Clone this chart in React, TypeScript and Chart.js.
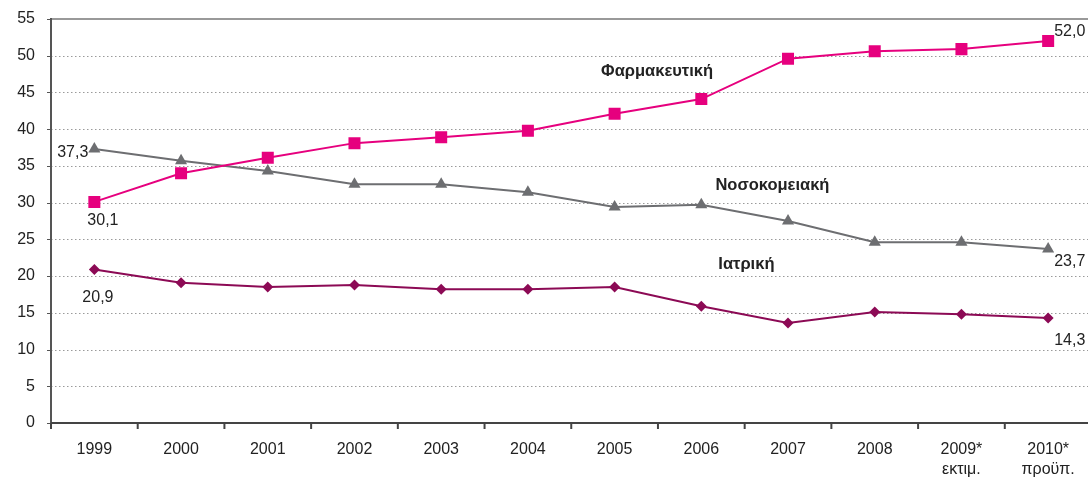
import React, { useEffect, useRef } from "react";
import { Chart, registerables } from "chart.js";

Chart.register(...registerables);

const categories: (string | string[])[] = [
  "1999", "2000", "2001", "2002", "2003", "2004", "2005", "2006", "2007", "2008",
  ["2009*", "εκτιμ."], ["2010*", "προϋπ."],
];
const pharmaValues = [30.1, 34.0, 36.1, 38.1, 38.9, 39.8, 42.1, 44.1, 49.6, 50.6, 50.9, 52.0];
const hospitalValues = [37.3, 35.7, 34.3, 32.5, 32.5, 31.4, 29.4, 29.7, 27.5, 24.6, 24.6, 23.7];
const medicalValues = [20.9, 19.1, 18.5, 18.8, 18.2, 18.2, 18.5, 15.9, 13.6, 15.1, 14.8, 14.3];
const yTicks = [0, 5, 10, 15, 20, 25, 30, 35, 40, 45, 50, 55];
const seriesNames = ["Φαρμακευτική", "Νοσοκομειακή", "Ιατρική"];

const PHARMA = "#E6007E";
const HOSP = "#6D6E71";
const MED = "#8C0A55";
const FONT = "'Liberation Sans', Arial, sans-serif";

const fmt = (v: number) => v.toFixed(1).replace(".", ",");

const annotPlugin = {
  id: "annot",
  beforeDatasetsDraw(chart: any) {
    const { ctx, chartArea: a, scales } = chart;
    const y = scales.y;
    const x = scales.x;
    ctx.save();
    // dotted grid
    ctx.strokeStyle = "#9a9a9a";
    ctx.lineWidth = 1;
    ctx.setLineDash([1.5, 2.5]);
    for (const t of yTicks) {
      if (t === 0 || t === 55) continue;
      const py = Math.round(y.getPixelForValue(t)) + 0.5;
      ctx.beginPath();
      ctx.moveTo(a.left, py);
      ctx.lineTo(a.right, py);
      ctx.stroke();
    }
    ctx.setLineDash([]);
    // small y tick marks
    ctx.strokeStyle = "#555";
    ctx.lineWidth = 1;
    for (const t of yTicks) {
      const py = Math.round(y.getPixelForValue(t)) + 0.5;
      ctx.beginPath();
      ctx.moveTo(a.left - 4, py);
      ctx.lineTo(a.left, py);
      ctx.stroke();
    }
    // top solid line
    ctx.strokeStyle = "#999";
    ctx.lineWidth = 2;
    const pTop = y.getPixelForValue(55);
    ctx.beginPath();
    ctx.moveTo(a.left, pTop);
    ctx.lineTo(a.right, pTop);
    ctx.stroke();
    // left axis
    ctx.strokeStyle = "#555";
    ctx.lineWidth = 2;
    ctx.beginPath();
    ctx.moveTo(a.left, pTop - 1);
    ctx.lineTo(a.left, a.bottom + 6);
    ctx.stroke();
    // bottom axis
    ctx.strokeStyle = "#444";
    const p0 = y.getPixelForValue(0);
    ctx.beginPath();
    ctx.moveTo(a.left, p0);
    ctx.lineTo(a.right, p0);
    ctx.stroke();
    // x ticks between categories
    ctx.lineWidth = 2;
    for (let i = 0; i <= categories.length; i++) {
      const px = x.getPixelForValue(i - 0.5);
      ctx.beginPath();
      ctx.moveTo(px, p0);
      ctx.lineTo(px, p0 + 6);
      ctx.stroke();
    }
    ctx.restore();
  },
  afterDatasetsDraw(chart: any) {
    const { ctx, scales } = chart;
    const x = scales.x;
    const y = scales.y;
    ctx.save();
    ctx.fillStyle = "#222";
    ctx.font = `16px ${FONT}`;
    ctx.textBaseline = "middle";
    const last = categories.length - 1;
    const px = (i: number) => x.getPixelForValue(i);
    const py = (v: number) => y.getPixelForValue(v);
    // value labels
    ctx.textAlign = "left";
    ctx.fillText(fmt(pharmaValues[last]), px(last) + 6, py(pharmaValues[last]) - 9);
    ctx.fillText(fmt(hospitalValues[last]), px(last) + 6, py(hospitalValues[last]) + 13);
    ctx.fillText(fmt(medicalValues[last]), px(last) + 6, py(medicalValues[last]) + 23);
    ctx.fillText(fmt(pharmaValues[0]), px(0) - 7, py(pharmaValues[0]) + 19);
    ctx.fillText(fmt(medicalValues[0]), px(0) - 12, py(medicalValues[0]) + 28);
    ctx.textAlign = "right";
    ctx.fillText(fmt(hospitalValues[0]), px(0) - 6, py(hospitalValues[0]) + 4);
    // series names
    ctx.font = `bold 16.5px ${FONT}`;
    ctx.textAlign = "center";
    ctx.fillText(seriesNames[0], px(6.49), py(47.8));
    ctx.fillText(seriesNames[1], px(7.82), py(32.3));
    ctx.fillText(seriesNames[2], px(7.52), py(21.6));
    ctx.restore();
  },
};

export default function App() {
  const ref = useRef<HTMLCanvasElement | null>(null);
  useEffect(() => {
    if (!ref.current) return;
    const chart = new Chart(ref.current, {
      type: "line",
      data: {
        labels: categories as any,
        datasets: [
          {
            label: seriesNames[0],
            data: pharmaValues,
            borderColor: PHARMA,
            backgroundColor: PHARMA,
            borderWidth: 2,
            pointStyle: "rect",
            pointRadius: 8.5,
            pointBorderWidth: 0,
            tension: 0,
          },
          {
            label: seriesNames[1],
            data: hospitalValues,
            borderColor: HOSP,
            backgroundColor: HOSP,
            borderWidth: 2,
            pointStyle: "triangle",
            pointRadius: 7,
            pointBorderWidth: 0,
            tension: 0,
          },
          {
            label: seriesNames[2],
            data: medicalValues,
            borderColor: MED,
            backgroundColor: MED,
            borderWidth: 2,
            pointStyle: "rectRot",
            pointRadius: 5.5,
            pointBorderWidth: 0,
            tension: 0,
          },
        ],
      },
      options: {
        responsive: false,
        animation: false,
        layout: { padding: { top: 19, right: 4, left: 0, bottom: 0 } },
        plugins: {
          legend: { display: false },
          tooltip: { enabled: false },
          title: { display: false },
        },
        scales: {
          x: {
            offset: true,
            grid: { display: false, drawTicks: false },
            border: { display: false },
            ticks: {
              color: "#222",
              font: { family: FONT, size: 16, lineHeight: 1.25 },
              padding: 17,
              maxRotation: 0,
              autoSkip: false,
            },
            afterFit: (s: any) => {
              s.height = 59;
              s.paddingLeft = 0;
              s.paddingRight = 0;
            },
          },
          y: {
            min: 0,
            max: 55,
            grid: { display: false, drawTicks: false },
            border: { display: false },
            ticks: {
              stepSize: 5,
              color: "#222",
              font: { family: FONT, size: 16 },
              padding: 16,
            },
            afterFit: (s: any) => {
              s.width = 51;
              s.paddingTop = 0;
              s.paddingBottom = 0;
            },
          },
        },
      },
      plugins: [annotPlugin],
    });
    return () => chart.destroy();
  }, []);
  return (
    <div style={{ position: "fixed", left: 0, top: 0, width: 1100, height: 482, background: "#fff" }}>
      <canvas ref={ref} width={1100} height={482} style={{ width: 1100, height: 482, display: "block" }} />
    </div>
  );
}
